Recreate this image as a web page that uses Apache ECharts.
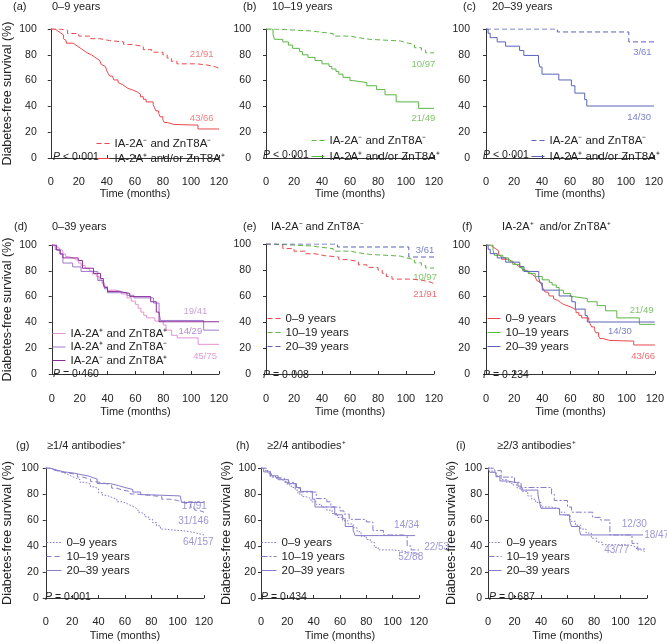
<!DOCTYPE html>
<html><head><meta charset="utf-8">
<script src="https://cdn.jsdelivr.net/npm/echarts@6/dist/echarts.min.js"></script>
<style>html,body{margin:0;padding:0;background:#fff}#c{width:667px;height:643px}</style>
</head><body><div id="c"></div><script>
// ---------- DATA (months, % diabetes-free) ----------
const xTicks = [0, 20, 40, 60, 80, 100, 120];
const yTicks = [0, 20, 40, 60, 80, 100];

const age0_9_neg = [[0,100],[6,99],[12,96.5],[20,94.5],[28,92.5],[35,91],[42,90],[52,88],[58,86.5],[66,84],[72,82],[80,80],[83,77.5],[86,75],[90,73],[104,72],[112,70.5],[118,69.5],[120,69.5]];
const age0_9_pos = [[0,100],[3,98.5],[5,97],[7,95.5],[9,92.5],[10,91],[11,89],[16,87.5],[18,86],[20,84.5],[22,83],[24,81.5],[26,80],[29,78.5],[31,77],[33,75.5],[35,74],[36,72.5],[37,71],[39,69.5],[40,67.5],[41,65.5],[42,63.5],[44,62],[45,60.5],[48,58.5],[49,57],[51,55.5],[53,54],[55,52.5],[59,51],[62,49.5],[64,47.5],[66,45.5],[68,43.5],[73,41.5],[74,39],[75,36.5],[77,34.5],[78,32],[80,29.5],[81,27.5],[83,26],[88,25.5],[105,22.5],[120,22.5]];
const age10_19_neg = [[0,100],[5,98.5],[32,97.7],[38,96.4],[48,94.5],[60,93.3],[66,92],[74,90.7],[96,89.4],[100,88],[106,85.5],[111,83.5],[114,81.5],[120,81.5]];
const age10_19_pos = [[0,100],[5,96],[6,92],[12,90],[16,87.5],[19,85],[24,82.5],[26,80],[30,78],[35,75.5],[40,73],[45,71],[47,69],[50,67],[52,65],[55,62.5],[60,60],[62,58.5],[72,56],[79,53],[85,49],[93,43.5],[109,38.5],[120,38.5]];
const age20_39_neg = [[0,100],[51,97.7],[102,90],[120,90]];
const age20_39_pos = [[0,100],[1.5,96.7],[3,93.3],[8,90],[14,86.7],[24,83.3],[27,79.5],[37.5,74.5],[38.5,70.5],[40,65],[52,60.5],[61,56],[63.5,50.3],[70.5,45.3],[72,40.3],[120,40.3]];

const d_bothPos = [[0,100],[2,98.5],[4,97],[6,95.5],[8,93],[10,91],[12,89.5],[16,88],[19,86],[21,84],[24,82],[27,80],[29,77.5],[32,75.5],[34,73],[36,70.5],[38,68],[40,65],[46,64],[50,62],[54,59],[57,56.5],[60,54],[62,51],[64,48],[66,45.5],[68,43.5],[74,41],[80,38],[82,34],[86,30],[90,28],[105,23],[120,23]];
const d_ia2Only = [[0,100],[2.5,96.5],[6,93],[8,86],[15,83],[21,79.5],[33,72.5],[37,69],[38,66],[40,63],[54,61],[59,59],[73,55],[77,48],[78,41.5],[109,34],[120,34]];
const d_znt8Only = [[0,100],[3.5,96],[6,93],[8,90],[19,88],[22,82],[30,78],[35,74],[37,70],[38,67],[40,64],[48,62.5],[56,60],[71,56],[75,48],[77,40.5],[120,40.5]];

const g_0_9 = [[0,100],[3,99],[6,98],[9,97],[12,95.5],[16,94],[19,92.5],[22,91],[26,89],[30,87.5],[34,85.5],[37,84],[40,81],[43,79],[46,77.5],[50,76],[54,74],[58,72.5],[62,71],[65,69.5],[68,68],[70,66],[72,64.5],[75,62.5],[78,60.5],[81,58],[84,55.5],[87,53],[90,52],[100,51.5],[106,50.5],[112,49.5],[116,48.5],[120,48]];
const g_10_19 = [[0,100],[3,98.5],[6,97],[12,96],[18,95],[24,93],[28,91.5],[34,89.5],[38,88],[46,86.5],[50,84.5],[54,83],[58,82],[64,80],[68,79],[78,78],[88,76],[94,75],[100,73.5],[104,72],[110,69.5],[113,67.5],[116,66],[120,66]];
const g_20_39 = [[0,100],[3,98.5],[8,97],[14,96],[22,95],[26,94],[32,92.5],[36,91.5],[39,88],[49,86.5],[55,85],[60,83.5],[66,81.5],[72,79.5],[76,78.5],[102,78.5],[103,73.5],[120,73.5]];

const h_0_9 = [[0,100],[3,98],[5,96],[8,94],[11,92],[14,90.5],[17,89],[20,87],[23,85],[26,83],[28,80],[31,78],[34,76.5],[38,74],[42,72],[46,70],[50,67.5],[54,65],[58,62],[62,59.5],[66,57],[70,54],[73,51],[76,47.5],[80,45],[83,43],[86,39],[89,37],[100,36],[108,35],[114,33.5],[120,32]];
const h_10_19 = [[0,100],[4,98],[7,93],[10,92],[18,89],[26,85],[29,81.5],[42,76.5],[50,74],[53,70],[60,67],[63,64.5],[67,60.5],[80,58.5],[85,52],[93,48.5],[108,47.5],[111,40],[114,37],[120,36.5]];
const h_20_39 = [[0,100],[2,97],[7,94],[13,91],[21,88],[27,85],[30,82],[39,76],[41,70],[52,70],[56,64],[62,61],[64,55],[70,52],[71.5,48],[117,48]];

const i_0_9 = [[0,100],[3,97],[6,94],[10,91],[14,89],[18,87],[22,84.5],[26,82],[30,78.5],[33,76],[36,73.5],[40,70],[48,68.5],[54,66],[58,63.5],[62,59],[66,56],[70,53],[74,50],[78,46],[82,43],[86,41],[104,40.5],[108,39],[112,37],[116,36],[118,35]];
const i_10_19 = [[0,100],[5,98],[10,93],[20,89],[25,85],[48,80],[50,75],[60,70],[63,66],[79,62],[85,60],[92,48.5],[108.7,42],[113,37.7],[118.5,37.7]];
const i_20_39 = [[0,100],[1.3,96.7],[6,93.3],[9,90],[15,88.5],[22.6,86],[25,83],[37.7,79.5],[39,73],[40,69],[51.6,69],[54,64],[61.6,59.5],[63,55],[69,52],[70,48.5],[117,48.5]];

const pValues = ['< 0·001', '< 0·001', '< 0·001', '= 0·460', '= 0·008', '= 0·234', '= 0·001', '= 0·434', '= 0·687'];
const panelLetters = ['(a)','(b)','(c)','(d)','(e)','(f)','(g)','(h)','(i)'];
const panelTitles = ['0–9 years','10–19 years','20–39 years','0–39 years','IA-2A⁻ and ZnT8A⁻','IA-2A⁺  and/or ZnT8A⁺','≥1/4 antibodies⁺','≥2/4 antibodies⁺','≥2/3 antibodies⁺'];
const groupNeg = 'IA-2A⁻ and ZnT8A⁻';
const groupPos = 'IA-2A⁺ and/or ZnT8A⁺';
const ageGroups = ['0–9 years','10–19 years','20–39 years'];
const dGroups = ['IA-2A⁺ and ZnT8A⁺','IA-2A⁺ and ZnT8A⁻','IA-2A⁻ and ZnT8A⁺'];
const endCounts = {
  a:['21/91','43/66'], b:['10/97','21/49'], c:['3/61','14/30'],
  d:['19/41','14/29','45/75'], e:['3/61','10/97','21/91'], f:['21/49','14/30','43/66'],
  g:['17/91','31/146','64/157'], h:['14/34','22/53','52/88'], i:['12/30','18/47','43/77']
};

// ---------- STYLE / LAYOUT ----------
const FONT = '"Liberation Sans", Arial, Helvetica, sans-serif';
const RED='#e8484c', GREEN='#5cb545', BLUE='#5a63b8', LAV='#857bc9';
const PINK='#e293d2', MPUR='#9f7acb', DPUR='#8e2c9a';
const DASH=[5,3], DOT=[1.6,1.6], DASHDOT=[6,2,2,2];

const panels = [
 {grid:[50,29,169,129], yOff:10, xOff:11, xm:7, xng:19, yng:26.75, yName:true, head:[13,52,1],
  series:[[groupNeg,age0_9_neg,RED,DASH],[groupPos,age0_9_pos,RED,'solid']],
  leg:[96,137.5,3,13], p:[53,151.5],
  notes:[[107.7,80.4,'#e96262'],[107.7,30.8,'#e96262']], nk:'a'},
 {grid:[266,29,168,129], yOff:11, xOff:11, xm:7, xng:19,
  head:[243,272,1],
  series:[[groupNeg,age10_19_neg,GREEN,DASH],[groupPos,age10_19_pos,GREEN,'solid']],
  leg:[311,134.5,4,13], p:[263,149.5],
  notes:[[112.4,72.9,GREEN],[112.4,30.8,GREEN]], nk:'b'},
 {grid:[486,29,168,129], yOff:12, xOff:11, xm:7, xng:19,
  head:[463,492,1],
  series:[[groupNeg,age20_39_neg,BLUE,DASH],[groupPos,age20_39_pos,BLUE,'solid']],
  leg:[531,134.5,4,13], p:[483,149.5],
  notes:[[111.7,81.6,BLUE],[109.4,31.5,BLUE]], nk:'c'},
 {grid:[50,245,169,129], yOff:11, xOff:11, xm:8, xng:21.5, yng:26.75, yName:true, head:[14,52,221],
  series:[[dGroups[0],d_bothPos,PINK,'solid'],[dGroups[1],d_ia2Only,MPUR,'solid'],[dGroups[2],d_znt8Only,DPUR,'solid']],
  leg:[52,327.5,1.5,13], p:[53,369],
  notes:[[103,48.3,'#bf8ad0'],[99.4,32.8,'#a06ac6'],[110,13.4,'#d884c8']], nk:'d'},
 {grid:[266,244,168,130], yOff:11, xOff:11, xm:8, xng:21.5,
  head:[243,271,221],
  series:[[ageGroups[0],age0_9_neg,RED,DASH],[ageGroups[1],age10_19_neg,GREEN,DASH],[ageGroups[2],age20_39_neg,BLUE,DASH]],
  leg:[267,312.5,2,13], p:[263,370],
  notes:[[113.6,95.3,BLUE],[113.6,74.2,GREEN],[113.6,61.2,RED]], nk:'e'},
 {grid:[486,245,169,129], yOff:12, xOff:11, xm:8, xng:21.5,
  head:[462,502,221],
  series:[[ageGroups[0],age0_9_pos,RED,'solid'],[ageGroups[1],age10_19_pos,GREEN,'solid'],[ageGroups[2],age20_39_pos,BLUE,'solid']],
  leg:[487,312.5,2,13], p:[483,369.5],
  notes:[[110.6,49.6,GREEN],[95.2,32.8,BLUE],[111.7,14,RED]], nk:'f'},
 {grid:[45,468,159,130], yOff:3, xOff:11, xm:7, xng:21, yng:28.75, yName:true, head:[16,47,440],
  series:[[ageGroups[0],g_0_9,LAV,DOT],[ageGroups[1],g_10_19,LAV,DASH],[ageGroups[2],g_20_39,LAV,'solid']],
  leg:[46,536.5,2,15], p:[45,591.5],
  notes:[[112.7,70.8,LAV],[112,58.7,LAV],[115.7,42.8,LAV]], nk:'g'},
 {grid:[261,468,158,130], yOff:1, xOff:11, xm:7, xng:21, yng:26.75, yName:true, head:[236,267,440],
  series:[[ageGroups[0],h_0_9,LAV,DOT],[ageGroups[1],h_10_19,LAV,DASHDOT],[ageGroups[2],h_20_39,LAV,'solid']],
  leg:[261,536.5,2,15], p:[261,592],
  notes:[[110.6,56.2,LAV],[133.4,38.7,LAV],[113.7,31,LAV]], nk:'h'},
 {grid:[488,468,159,130], yOff:2, xOff:11, xm:7, xng:21, yng:27.75, yName:true, head:[456,497,440],
  series:[[ageGroups[0],i_0_9,LAV,DOT],[ageGroups[1],i_10_19,LAV,DASHDOT],[ageGroups[2],i_20_39,LAV,'solid']],
  leg:[488,536.5,2,13], p:[489,592],
  notes:[[110.4,56.7,LAV],[127.3,48.5,LAV],[97.1,36.9,LAV]], nk:'i'}
];

const grids=[], xAxes=[], yAxes=[], series=[], legends=[], titles=[], nameMap={};
const TXT='#222';
panels.forEach((P,k)=>{
  grids.push({left:P.grid[0], top:P.grid[1], width:P.grid[2], height:P.grid[3]});
  xAxes.push({gridIndex:k, type:'value', min:xTicks[0], max:xTicks[xTicks.length-1], interval:xTicks[1]-xTicks[0],
    offset:P.xOff, splitLine:{show:false},
    axisLine:{show:true, lineStyle:{color:'#333', width:1}},
    axisTick:{show:true, inside:true, length:3, lineStyle:{color:'#333'}},
    axisLabel:{fontSize:11, color:TXT, margin:P.xm, fontFamily:FONT},
    name:'Time (months)', nameLocation:'middle', nameGap:P.xng,
    nameTextStyle:{fontSize:11, color:TXT, fontFamily:FONT}});
  const ya = {gridIndex:k, type:'value', min:yTicks[0], max:yTicks[yTicks.length-1], interval:yTicks[1]-yTicks[0],
    offset:P.yOff, splitLine:{show:false},
    axisLine:{show:true, lineStyle:{color:'#333', width:1}},
    axisTick:{show:true, length:3, lineStyle:{color:'#333'}},
    axisLabel:{fontSize:10.5, color:TXT, margin:4, fontFamily:FONT}};
  if (P.yName) Object.assign(ya, {name:'Diabetes-free survival (%)', nameLocation:'middle', nameGap:P.yng,
    nameTextStyle:{fontSize:12.5, color:TXT, fontFamily:FONT}});
  yAxes.push(ya);
  const keys=[];
  P.series.forEach((s,j)=>{
    const key = P.nk + j;
    nameMap[key] = s[0];
    keys.push(key);
    series.push({type:'line', name:key, xAxisIndex:k, yAxisIndex:k, data:s[1], step:'end',
      symbol:'none', silent:true, animation:false,
      lineStyle:{color:s[2], width:1, type:s[3]}, itemStyle:{color:s[2]}});
  });
  legends.push({data:keys, orient:'vertical', left:P.leg[0], top:P.leg[1], itemGap:P.leg[2],
    itemWidth:P.leg[3], itemHeight:11, padding:0, selectedMode:false,
    lineStyle:{width:1},
    itemStyle:{color:'rgba(0,0,0,0)', borderColor:'rgba(0,0,0,0)', borderWidth:0, opacity:0},
    formatter:n=>nameMap[n], textStyle:{fontSize:11.5, color:TXT, fontFamily:FONT}});
  const counts = endCounts[P.nk];
  series.push({type:'scatter', xAxisIndex:k, yAxisIndex:k, silent:true, animation:false, clip:false,
    symbolSize:0.1, itemStyle:{color:'rgba(0,0,0,0)'},
    data:P.notes.map((n,j)=>({value:[n[0],n[1]], label:{show:true, position:'inside', formatter:counts[j], color:n[2],
      fontSize:k>=6?10:9.5, fontFamily:FONT}}))});
  titles.push({text:panelLetters[k], left:P.head[0], top:P.head[2], padding:0,
    textStyle:{fontSize:11, fontWeight:'normal', color:TXT, fontFamily:FONT}});
  titles.push({text:panelTitles[k], left:P.head[1], top:P.head[2], padding:0,
    textStyle:{fontSize:11, fontWeight:'normal', color:TXT, fontFamily:FONT}});
  titles.push({text:'{i|P} '+pValues[k], left:P.p[0], top:P.p[1], padding:0,
    textStyle:{fontSize:10.5, fontWeight:'normal', color:TXT, fontFamily:FONT,
      rich:{i:{fontStyle:'italic', fontSize:10.5, color:TXT, fontFamily:FONT}}}});
});

const chart = echarts.init(document.getElementById('c'), null, {renderer:'canvas'});
chart.setOption({
  animation:false, backgroundColor:'#fff',
  textStyle:{fontFamily:FONT},
  title:titles, grid:grids, xAxis:xAxes, yAxis:yAxes, legend:legends, series:series
});
</script></body></html>
